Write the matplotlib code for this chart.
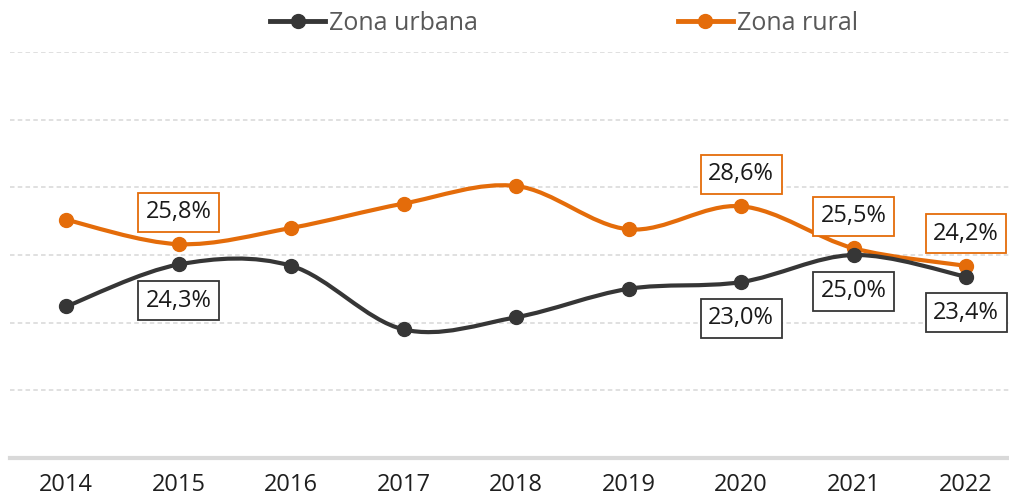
import matplotlib
matplotlib.use("Agg")
import matplotlib.pyplot as plt
from matplotlib.path import Path
from matplotlib.patches import PathPatch
from matplotlib.lines import Line2D
import numpy as np

years = ["2014", "2015", "2016", "2017", "2018", "2019", "2020", "2021", "2022"]
urbana = [21.2, 24.3, 24.2, 19.5, 20.4, 22.5, 23.0, 25.0, 23.4]
rural = [27.6, 25.8, 27.0, 28.8, 30.1, 26.9, 28.6, 25.5, 24.2]
# which points get a data label
label_idx = [1, 6, 7, 8]

C_URB = "#363636"
C_RUR = "#E46C0A"
FONT = "Open Sans"
plt.rcParams["font.family"] = [FONT, "DejaVu Sans"]

W, H = 1009, 499
fig = plt.figure(figsize=(W / 100, H / 100), dpi=100)
ax = fig.add_axes([10 / W, (H - 458) / H, (W - 10) / W, (458 - 52) / H])

x = np.arange(len(years))
ax.set_xlim(-0.5, (W - 66) / 112.5)
ax.set_ylim(10, 40)


def smooth_path(xs, ys):
    pts = list(zip(xs, ys))
    verts = [pts[0]]
    codes = [Path.MOVETO]
    n = len(pts)
    for i in range(n - 1):
        p0 = np.array(pts[i - 1] if i > 0 else pts[i])
        p1 = np.array(pts[i])
        p2 = np.array(pts[i + 1])
        p3 = np.array(pts[i + 2] if i + 2 < n else pts[i + 1])
        c1 = p1 + (p2 - p0) / 6.0
        c2 = p2 - (p3 - p1) / 6.0
        verts += [tuple(c1), tuple(c2), tuple(p2)]
        codes += [Path.CURVE4] * 3
    return Path(verts, codes)


for vals, col, z in [(rural, C_RUR, 3), (urbana, C_URB, 4)]:
    ax.add_patch(PathPatch(smooth_path(x, vals), facecolor="none", edgecolor=col,
                           lw=3.0, zorder=z, capstyle="round", joinstyle="round"))
    ax.plot(x, vals, ls="none", marker="o", ms=10, color=col, zorder=z + 0.5)

# grid
for gv in [15, 20, 25, 30, 35, 40]:
    ax.axhline(gv, color="#DDDDDD", lw=1.3, ls=(0, (2.5, 1.8)), zorder=1)

for s in ["top", "right", "left"]:
    ax.spines[s].set_visible(False)
ax.spines["bottom"].set_color("#D9D9D9")
ax.spines["bottom"].set_linewidth(3)
ax.set_yticks([])
ax.set_xticks(x)
ax.set_xticklabels(years, fontsize=17, color="#1F1F1F")
ax.tick_params(axis="x", length=0, pad=11)


def fmt(v):
    return f"{v:.1f}%".replace(".", ",")


for i in label_idx:
    ax.annotate(fmt(rural[i]), (x[i], rural[i]), xytext=(0, 23), textcoords="offset points",
                ha="center", va="center", fontsize=17, color="#1A1A1A", zorder=6,
                bbox=dict(boxstyle="square,pad=0.32", fc="white", ec=C_RUR, lw=1.3))
    ax.annotate(fmt(urbana[i]), (x[i], urbana[i]), xytext=(0, -26), textcoords="offset points",
                ha="center", va="center", fontsize=17, color="#1A1A1A", zorder=6,
                bbox=dict(boxstyle="square,pad=0.32", fc="white", ec=C_URB, lw=1.3))

handles = [Line2D([], [], color=C_URB, lw=3.5, marker="o", ms=10),
           Line2D([], [], color=C_RUR, lw=3.5, marker="o", ms=10)]
leg = fig.legend(handles, ["Zona urbana", "Zona rural"], ncol=2, loc="center",
                 bbox_to_anchor=(564 / W, 1 - 23 / H), frameon=False, fontsize=18,
                 handlelength=2.2, handletextpad=0.15, columnspacing=8.0,
                 labelcolor="#595959")

fig.savefig("out.png", dpi=100)
